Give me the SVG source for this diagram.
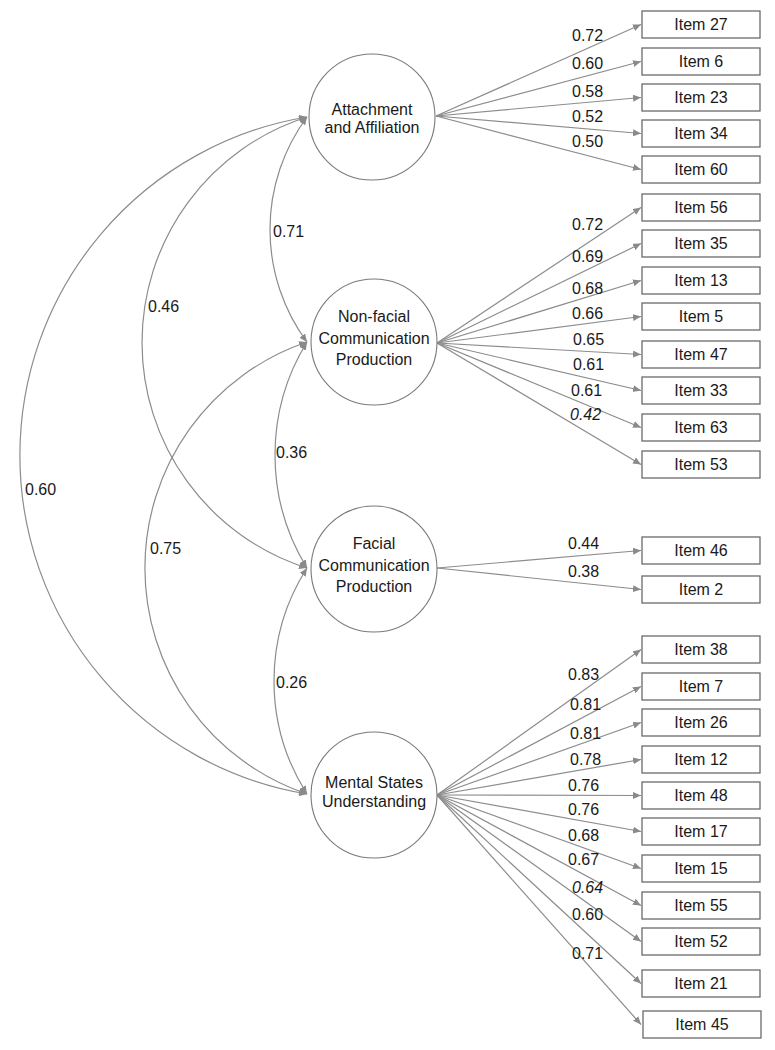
<svg xmlns="http://www.w3.org/2000/svg" width="775" height="1050" viewBox="0 0 775 1050">
<style>
text{font-family:"Liberation Sans",Arial,sans-serif;font-size:16px;fill:#1a1a1a}
.lat{fill:#fff;stroke:#7a7a7a;stroke-width:1.1}
.box{fill:#fff;stroke:#6a6a6a;stroke-width:1.3}
.ct{text-anchor:middle}
.ln{fill:none;stroke:#8c8c8c;stroke-width:1.2;marker-end:url(#ah)}
.arc{fill:none;stroke:#8c8c8c;stroke-width:1.2;marker-start:url(#ah);marker-end:url(#ah)}
.it{font-style:italic}
</style>
<defs>
<marker id="ah" markerUnits="userSpaceOnUse" markerWidth="9" markerHeight="8" refX="8" refY="3.5" orient="auto-start-reverse">
<path d="M0,0 L8,3.5 L0,7 z" fill="#8a8a8a"/>
</marker>
</defs>
<rect width="775" height="1050" fill="#fff"/>
<g id="connectors">
<path class="arc" d="M307,117 A189.5,189.5 0 0 0 307,342"/>
<path class="arc" d="M307,117 A236.6,236.6 0 0 0 307,568"/>
<path class="arc" d="M307,117 A343.1,343.1 0 0 0 307,794"/>
<path class="arc" d="M307,342 A215.5,215.5 0 0 0 307,568"/>
<path class="arc" d="M307,342 A238.6,238.6 0 0 0 307,794"/>
<path class="arc" d="M307,568 A210,210 0 0 0 307,794"/>
<text x="273" y="237">0.71</text>
<text x="148" y="312">0.46</text>
<text x="25" y="495">0.60</text>
<text x="276" y="458">0.36</text>
<text x="150" y="554">0.75</text>
<text x="276" y="688">0.26</text>
<path class="ln" d="M436,116 L641,24.5"/>
<path class="ln" d="M436,116 L641,61.5"/>
<path class="ln" d="M436,116 L641,97.5"/>
<path class="ln" d="M436,116 L641,133.5"/>
<path class="ln" d="M436,116 L641,169.5"/>
<text x="572" y="41">0.72</text>
<text x="572" y="69">0.60</text>
<text x="572" y="97">0.58</text>
<text x="572" y="122">0.52</text>
<text x="572" y="147">0.50</text>
<path class="ln" d="M437,343 L641,207.5"/>
<path class="ln" d="M437,343 L641,243.5"/>
<path class="ln" d="M437,343 L641,280.5"/>
<path class="ln" d="M437,343 L641,316.5"/>
<path class="ln" d="M437,343 L641,354.5"/>
<path class="ln" d="M437,343 L641,390.5"/>
<path class="ln" d="M437,343 L641,427.5"/>
<path class="ln" d="M437,343 L641,464.5"/>
<text x="572" y="230">0.72</text>
<text x="572" y="262">0.69</text>
<text x="572" y="294">0.68</text>
<text x="572" y="319">0.66</text>
<text x="573" y="345">0.65</text>
<text x="573" y="370">0.61</text>
<text x="571" y="396">0.61</text>
<text class="it" x="570" y="420">0.42</text>
<path class="ln" d="M437,568 L641,550.5"/>
<path class="ln" d="M437,568 L641,589.5"/>
<text x="568" y="549">0.44</text>
<text x="568" y="577">0.38</text>
<path class="ln" d="M437,795 L641,649.5"/>
<path class="ln" d="M437,795 L641,686.5"/>
<path class="ln" d="M437,795 L641,722.5"/>
<path class="ln" d="M437,795 L641,759.5"/>
<path class="ln" d="M437,795 L641,795.5"/>
<path class="ln" d="M437,795 L641,831.5"/>
<path class="ln" d="M437,795 L641,868.5"/>
<path class="ln" d="M437,795 L641,905.5"/>
<path class="ln" d="M437,795 L641,941.5"/>
<path class="ln" d="M437,795 L641,983.5"/>
<path class="ln" d="M437,795 L641,1024.5"/>
<text x="568" y="680">0.83</text>
<text x="570" y="710">0.81</text>
<text x="570" y="739">0.81</text>
<text x="570" y="765">0.78</text>
<text x="568" y="791">0.76</text>
<text x="568" y="815">0.76</text>
<text x="568" y="841">0.68</text>
<text x="568" y="865">0.67</text>
<text class="it" x="572" y="893">0.64</text>
<text x="572" y="920">0.60</text>
<text x="572" y="959">0.71</text>
</g>
<g id="f1"><circle class="lat" cx="372" cy="117" r="63"/><text class="ct" x="372" y="115">Attachment</text><text class="ct" x="372" y="133">and Affiliation</text></g>
<g id="f2"><circle class="lat" cx="374" cy="342" r="63"/><text class="ct" x="374" y="322">Non-facial</text><text class="ct" x="374" y="344">Communication</text><text class="ct" x="374" y="365">Production</text></g>
<g id="f3"><circle class="lat" cx="374" cy="569" r="63"/><text class="ct" x="374" y="549">Facial</text><text class="ct" x="374" y="571">Communication</text><text class="ct" x="374" y="592">Production</text></g>
<g id="f4"><circle class="lat" cx="374" cy="795" r="63"/><text class="ct" x="374" y="788">Mental States</text><text class="ct" x="374" y="807">Understanding</text></g>
<g id="i27"><rect class="box" x="642" y="11" width="118" height="27"/><text class="ct" x="701" y="30">Item 27</text></g>
<g id="i6"><rect class="box" x="642" y="48" width="118" height="27"/><text class="ct" x="701" y="67">Item 6</text></g>
<g id="i23"><rect class="box" x="642" y="84" width="118" height="27"/><text class="ct" x="701" y="103">Item 23</text></g>
<g id="i34"><rect class="box" x="642" y="120" width="118" height="27"/><text class="ct" x="701" y="139">Item 34</text></g>
<g id="i60"><rect class="box" x="642" y="156" width="118" height="27"/><text class="ct" x="701" y="175">Item 60</text></g>
<g id="i56"><rect class="box" x="642" y="194" width="118" height="27"/><text class="ct" x="701" y="213">Item 56</text></g>
<g id="i35"><rect class="box" x="642" y="230" width="118" height="27"/><text class="ct" x="701" y="249">Item 35</text></g>
<g id="i13"><rect class="box" x="642" y="267" width="118" height="27"/><text class="ct" x="701" y="286">Item 13</text></g>
<g id="i5"><rect class="box" x="642" y="303" width="118" height="27"/><text class="ct" x="701" y="322">Item 5</text></g>
<g id="i47"><rect class="box" x="642" y="341" width="118" height="27"/><text class="ct" x="701" y="360">Item 47</text></g>
<g id="i33"><rect class="box" x="642" y="377" width="118" height="27"/><text class="ct" x="701" y="396">Item 33</text></g>
<g id="i63"><rect class="box" x="642" y="414" width="118" height="27"/><text class="ct" x="701" y="433">Item 63</text></g>
<g id="i53"><rect class="box" x="642" y="451" width="118" height="27"/><text class="ct" x="701" y="470">Item 53</text></g>
<g id="i46"><rect class="box" x="642" y="537" width="118" height="27"/><text class="ct" x="701" y="556">Item 46</text></g>
<g id="i2"><rect class="box" x="642" y="576" width="118" height="27"/><text class="ct" x="701" y="595">Item 2</text></g>
<g id="i38"><rect class="box" x="642" y="636" width="118" height="27"/><text class="ct" x="701" y="655">Item 38</text></g>
<g id="i7"><rect class="box" x="642" y="673" width="118" height="27"/><text class="ct" x="701" y="692">Item 7</text></g>
<g id="i26"><rect class="box" x="642" y="709" width="118" height="27"/><text class="ct" x="701" y="728">Item 26</text></g>
<g id="i12"><rect class="box" x="642" y="746" width="118" height="27"/><text class="ct" x="701" y="765">Item 12</text></g>
<g id="i48"><rect class="box" x="642" y="782" width="118" height="27"/><text class="ct" x="701" y="801">Item 48</text></g>
<g id="i17"><rect class="box" x="642" y="818" width="118" height="27"/><text class="ct" x="701" y="837">Item 17</text></g>
<g id="i15"><rect class="box" x="642" y="855" width="118" height="27"/><text class="ct" x="701" y="874">Item 15</text></g>
<g id="i55"><rect class="box" x="642" y="892" width="118" height="27"/><text class="ct" x="701" y="911">Item 55</text></g>
<g id="i52"><rect class="box" x="642" y="928" width="118" height="27"/><text class="ct" x="701" y="947">Item 52</text></g>
<g id="i21"><rect class="box" x="642" y="970" width="118" height="27"/><text class="ct" x="701" y="989">Item 21</text></g>
<g id="i45"><rect class="box" x="643" y="1011" width="118" height="27"/><text class="ct" x="702" y="1030">Item 45</text></g>
</svg>
